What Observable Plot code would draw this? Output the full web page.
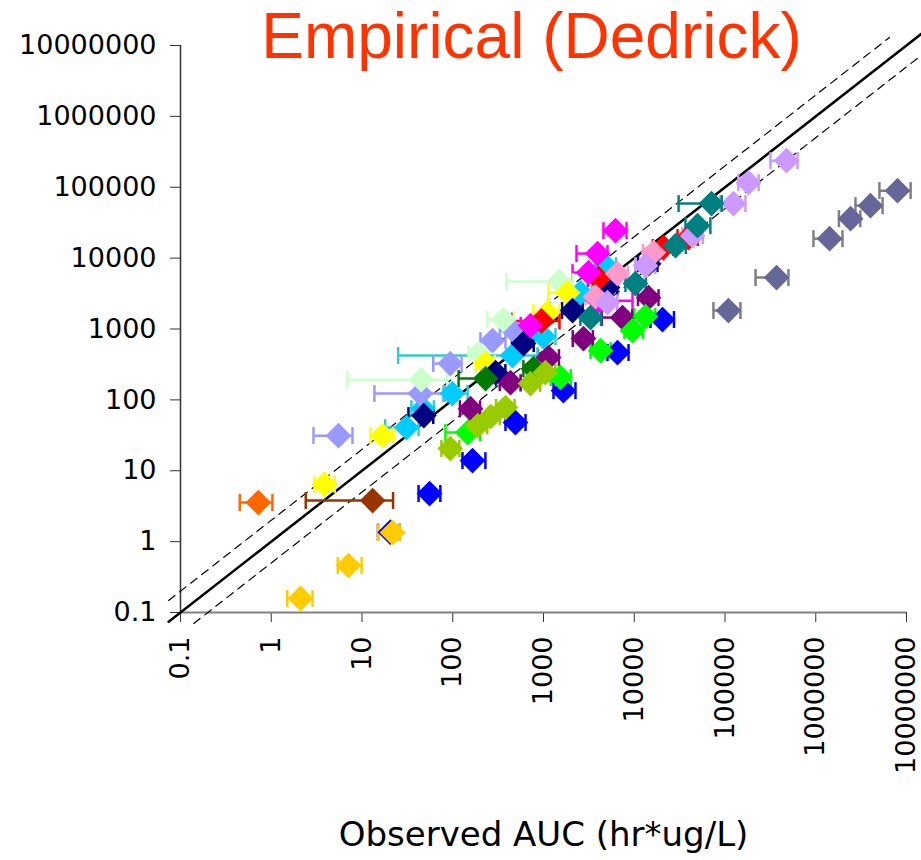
<!DOCTYPE html>
<html><head><meta charset="utf-8">
<script src="https://cdn.jsdelivr.net/npm/d3@7"></script>
<script src="https://cdn.jsdelivr.net/npm/@observablehq/plot@0.6"></script>
<style>
html,body{margin:0;padding:0;background:#fff;overflow:hidden;}
</style>
</head><body><div id="chart"></div>
<script>
// Observed AUC (x), predicted AUC (y), error bar low / high (x)
const axisTicks = [0.1, 1, 10, 100, 1000, 10000, 100000, 1000000, 10000000];
const titleText = "Empirical (Dedrick)";
const xLabel = "Observed AUC (hr*ug/L)";

const identityLine = [0.074, 1.5e7];
const upperLine = [0.074, 6.5e6];
const lowerLine = [0.14, 3e7];

const orange = [[0.72, 3.56, 0.45, 1.03]];
const brown = [[13.1, 3.8, 2.4, 22]];
const blue = [
  [20.5, 1.36, 15, 26], [55.5, 4.77, 42, 73], [165, 13.9, 128, 229], [491, 47.9, 381, 634],
  [1660, 135, 1290, 2250], [6530, 465, 5070, 8650], [20500, 1360, 15100, 27400]
];
const gold = [[2.1, 0.158, 1.5, 2.85], [7.1, 0.46, 5.4, 9.9], [21.7, 1.34, 15, 26]];
const periwinkle = [[5.5, 31.3, 2.92, 7.85], [44, 123, 13.7, 83], [94, 325, 61, 125], [274, 686, 202, 381], [467, 948, 330, 600]];
const mint = [[45, 193, 6.9, 87], [192, 450, 150, 250], [362, 1360, 241, 470], [1500, 4670, 391, 2100]];
const yellow = [[3.87, 6.4, 3.0, 5.0], [16.8, 31.3, 12.4, 22.2], [230, 325, 180, 290], [1107, 1700, 776, 1500], [1840, 3260, 1135, 2400]];
const cyan = [
  [31, 40.6, 18, 42], [47, 75, 35, 62], [99, 123, 79, 146], [455, 422, 25, 860],
  [1000, 780, 750, 1356], [2560, 3260, 1950, 3400], [4820, 7830, 3700, 6300]
];
const navy = [[48, 60, 32.5, 61], [296, 243, 230, 380], [603, 622, 450, 780], [2090, 1820, 1600, 2700], [5070, 3840, 3800, 6500], [14400, 8350, 11000, 18000]];
const darkGreen = [[230, 200, 116, 300], [776, 276, 600, 1000]];
const purple = [[157, 75, 120, 200], [433, 175, 330, 560], [1135, 395, 870, 1480], [2760, 733, 2100, 3500], [7430, 1450, 4400, 9500], [14400, 2770, 11000, 18500]];
const green = [[146, 34.6, 83, 200], [1540, 207, 1200, 2000], [4250, 495, 3300, 5500], [9570, 948, 7800, 12500], [13300, 1500, 10000, 17000]];
const olive = [[94, 20.6, 75, 118], [188, 43, 150, 240], [261, 58, 200, 330], [381, 78, 300, 480], [719, 170, 560, 920], [1050, 243, 820, 1350]];
const red = [[950, 1300, 455, 1500], [4040, 5140, 3100, 5300], [21000, 14100, 16000, 27000], [39600, 19500, 30000, 50000]];
const magenta = [[719, 1120, 560, 920], [3130, 6240, 2090, 4700], [3940, 11600, 2310, 5070], [6210, 24400, 4580, 8220], [4040, 2510, 2560, 9570]];
const pink = [[3740, 2860, 2900, 4800], [6530, 6040, 5000, 8500], [16300, 12000, 12500, 21000]];
const lavender = [[5070, 2350, 3900, 6500], [13300, 7830, 10300, 17000], [43900, 20700, 34000, 57000], [124000, 58800, 89000, 168000], [181600, 116000, 140000, 235000], [476000, 237000, 317000, 630000]];
const teal = [[3300, 1450, 2550, 4300], [10300, 4370, 8000, 13400], [28500, 15000, 22000, 37000], [49800, 28700, 36700, 69000], [71000, 58800, 30800, 92000]];
const slate = [[109000, 1820, 74600, 148000], [370000, 5310, 217000, 500000], [1420000, 18800, 944000, 1970000], [2420000, 36000, 1800000, 3100000], [4010000, 55000, 2740000, 5450000], [7960000, 89600, 5030000, 11100000]];

const seriesList = [
  {pts: orange, fill: "#FF6600", err: "#FF6600"},
  {pts: brown, fill: "#993300", err: "#993300"},
  {pts: blue, fill: "#0000FF", err: "#0000FF"},
  {pts: gold, fill: "#FFCC00", err: "#FFCC00"},
  {pts: cyan, fill: "#00CCFF", err: "#33CCCC"},
  {pts: periwinkle, fill: "#9999FF", err: "#9999FF"},
  {pts: mint, fill: "#CCFFCC", err: "#CCFFCC"},
  {pts: yellow, fill: "#FFFF00", err: "#FFFF00"},
  {pts: navy, fill: "#000080", err: "#000080"},
  {pts: darkGreen, fill: "#007A00", err: "#007A00"},
  {pts: purple, fill: "#800080", err: "#800080"},
  {pts: green, fill: "#00FF00", err: "#00FF00"},
  {pts: olive, fill: "#99CC00", err: "#99CC00"},
  {pts: red, fill: "#FF0000", err: "#FF0000"},
  {pts: magenta, fill: "#FF00FF", err: "#FF00FF"},
  {pts: pink, fill: "#FF99CC", err: "#FF99CC"},
  {pts: lavender, fill: "#CC99FF", err: "#CC99FF"},
  {pts: teal, fill: "#008080", err: "#008080"},
  {pts: slate, fill: "#666699", err: "#808080"}
];

const rows = seriesList.flatMap(s => s.pts.map(([obs, pred, lo, hi]) => ({obs, pred, lo, hi, fill: s.fill, err: s.err})));

const lineRows = identityLine.map(x => ({x, y: x}));
const upperRows = upperLine.map(x => ({x, y: x * 2}));
const lowerRows = lowerLine.map(x => ({x, y: x / 2}));

const capSymbol = {
  draw(ctx, size) {
    const h = Math.sqrt(size / Math.PI);
    ctx.moveTo(0, -h);
    ctx.lineTo(0, h);
  }
};

const chart = Plot.plot({
  width: 921,
  height: 860,
  marginLeft: 180,
  marginRight: 15,
  marginTop: 45,
  marginBottom: 248,
  style: {fontFamily: "DejaVu Sans", fontSize: "27px", background: "#fff", color: "#000"},
  x: {type: "log", domain: [0.1, 1e7]},
  y: {type: "log", domain: [0.1, 1e7]},
  color: {type: "identity"},
  marks: [
    Plot.axisY({ticks: axisTicks, tickFormat: d => String(d), tickSize: 10, tickPadding: 14, label: null, stroke: "#333"}),
    Plot.axisX({ticks: axisTicks, tickFormat: d => String(d), tickSize: 10, tickPadding: 14, tickRotate: -90, label: null, stroke: "#333"}),
    Plot.ruleY([0.1], {stroke: "#808080", strokeWidth: 2}),
    Plot.ruleX([0.1], {stroke: "#333", strokeWidth: 1.5}),
    Plot.line(upperRows, {x: "x", y: "y", stroke: "#000", strokeWidth: 1.2, strokeDasharray: "8,6"}),
    Plot.line(lowerRows, {x: "x", y: "y", stroke: "#000", strokeWidth: 1.2, strokeDasharray: "8,6"}),
    Plot.line(lineRows, {x: "x", y: "y", stroke: "#000", strokeWidth: 2.5}),
    Plot.ruleY(rows, {y: "pred", x1: "lo", x2: "hi", stroke: "err", strokeWidth: 2.5}),
    Plot.dot(rows, {x: "lo", y: "pred", symbol: capSymbol, r: 8.5, stroke: "err", fill: "none", strokeWidth: 2.5}),
    Plot.dot(rows, {x: "hi", y: "pred", symbol: capSymbol, r: 8.5, stroke: "err", fill: "none", strokeWidth: 2.5}),
    Plot.dot(rows, {x: "obs", y: "pred", symbol: "diamond2", r: 11.6, fill: "fill", stroke: "none"}),
    Plot.text([titleText], {text: d => d, frameAnchor: "top", dx: -12, dy: 12, lineAnchor: "bottom", fontSize: 64, fontFamily: "Liberation Sans", fill: "#FF3300"}),
    Plot.text([xLabel], {text: d => d, frameAnchor: "bottom", dy: 223, lineAnchor: "middle", fontSize: 34, fontFamily: "DejaVu Sans", fill: "#000"})
  ]
});
document.getElementById("chart").appendChild(chart);
</script>
</body></html>
